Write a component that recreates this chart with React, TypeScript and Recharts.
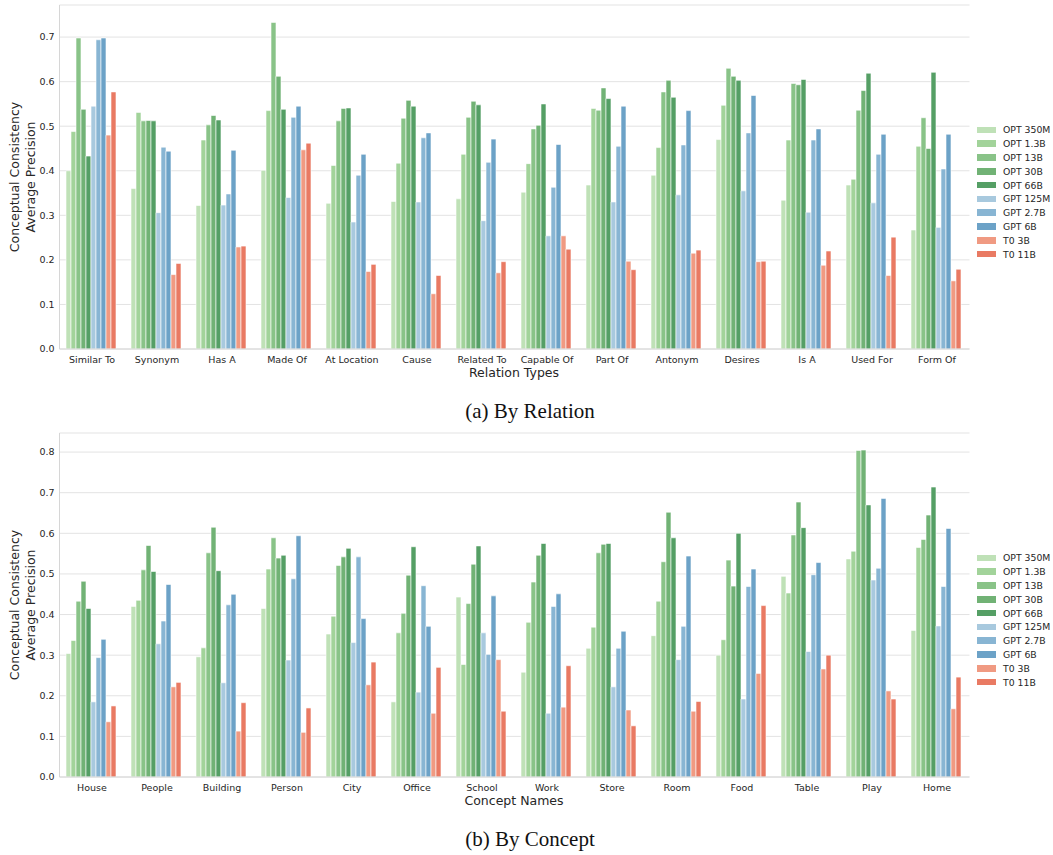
import { BarChart, Bar, XAxis, YAxis, CartesianGrid } from 'recharts'

const RELATIONS = ['Similar To', 'Synonym', 'Has A', 'Made Of', 'At Location', 'Cause', 'Related To', 'Capable Of', 'Part Of', 'Antonym', 'Desires', 'Is A', 'Used For', 'Form Of']
const REL_OPT_350M = [0.400, 0.360, 0.322, 0.401, 0.327, 0.331, 0.337, 0.352, 0.368, 0.390, 0.470, 0.334, 0.368, 0.267]
const REL_OPT_1_3B = [0.488, 0.531, 0.469, 0.535, 0.412, 0.417, 0.437, 0.416, 0.540, 0.452, 0.547, 0.469, 0.381, 0.455]
const REL_OPT_13B = [0.698, 0.512, 0.503, 0.733, 0.512, 0.518, 0.520, 0.494, 0.536, 0.577, 0.630, 0.596, 0.536, 0.519]
const REL_OPT_30B = [0.538, 0.513, 0.524, 0.612, 0.540, 0.558, 0.556, 0.502, 0.586, 0.603, 0.612, 0.593, 0.580, 0.450]
const REL_OPT_66B = [0.433, 0.512, 0.514, 0.538, 0.541, 0.545, 0.548, 0.550, 0.562, 0.565, 0.603, 0.605, 0.619, 0.621]
const REL_GPT_125M = [0.545, 0.306, 0.323, 0.340, 0.285, 0.330, 0.288, 0.254, 0.330, 0.346, 0.355, 0.307, 0.328, 0.273]
const REL_GPT_2_7B = [0.694, 0.453, 0.348, 0.520, 0.390, 0.474, 0.419, 0.363, 0.455, 0.458, 0.485, 0.469, 0.437, 0.404]
const REL_GPT_6B = [0.698, 0.444, 0.446, 0.545, 0.437, 0.485, 0.471, 0.459, 0.545, 0.535, 0.569, 0.494, 0.482, 0.482]
const REL_T0_3B = [0.480, 0.167, 0.229, 0.447, 0.174, 0.124, 0.171, 0.254, 0.197, 0.215, 0.196, 0.188, 0.165, 0.153]
const REL_T0_11B = [0.577, 0.192, 0.231, 0.462, 0.190, 0.165, 0.196, 0.224, 0.178, 0.222, 0.197, 0.220, 0.251, 0.179]

const CONCEPTS = ['House', 'People', 'Building', 'Person', 'City', 'Office', 'School', 'Work', 'Store', 'Room', 'Food', 'Table', 'Play', 'Home']
const CON_OPT_350M = [0.304, 0.420, 0.296, 0.415, 0.352, 0.185, 0.443, 0.258, 0.317, 0.348, 0.300, 0.494, 0.537, 0.361]
const CON_OPT_1_3B = [0.336, 0.435, 0.318, 0.512, 0.396, 0.355, 0.277, 0.381, 0.369, 0.433, 0.338, 0.453, 0.556, 0.565]
const CON_OPT_13B = [0.433, 0.510, 0.552, 0.589, 0.521, 0.403, 0.427, 0.480, 0.552, 0.530, 0.534, 0.596, 0.804, 0.585]
const CON_OPT_30B = [0.482, 0.570, 0.615, 0.539, 0.542, 0.497, 0.524, 0.546, 0.573, 0.652, 0.470, 0.677, 0.805, 0.645]
const CON_OPT_66B = [0.415, 0.506, 0.508, 0.546, 0.563, 0.567, 0.569, 0.575, 0.575, 0.589, 0.600, 0.614, 0.670, 0.714]
const CON_GPT_125M = [0.185, 0.328, 0.232, 0.288, 0.331, 0.209, 0.355, 0.157, 0.222, 0.289, 0.192, 0.309, 0.485, 0.372]
const CON_GPT_2_7B = [0.294, 0.384, 0.424, 0.488, 0.542, 0.471, 0.302, 0.420, 0.317, 0.371, 0.469, 0.498, 0.514, 0.469]
const CON_GPT_6B = [0.339, 0.474, 0.450, 0.594, 0.390, 0.371, 0.446, 0.451, 0.359, 0.544, 0.512, 0.528, 0.686, 0.612]
const CON_T0_3B = [0.136, 0.222, 0.113, 0.110, 0.227, 0.157, 0.289, 0.172, 0.165, 0.162, 0.255, 0.266, 0.212, 0.168]
const CON_T0_11B = [0.175, 0.233, 0.183, 0.170, 0.283, 0.270, 0.162, 0.274, 0.126, 0.186, 0.422, 0.300, 0.192, 0.246]

const REL_TICKS = [0, 0.1, 0.2, 0.3, 0.4, 0.5, 0.6, 0.7]
const CON_TICKS = [0, 0.1, 0.2, 0.3, 0.4, 0.5, 0.6, 0.7, 0.8]

const MODELS = [
  { key: 'opt350m', name: 'OPT 350M', color: '#bfe1b7' },
  { key: 'opt13b_small', name: 'OPT 1.3B', color: '#a2d39a' },
  { key: 'opt13b', name: 'OPT 13B', color: '#89c388' },
  { key: 'opt30b', name: 'OPT 30B', color: '#71b275' },
  { key: 'opt66b', name: 'OPT 66B', color: '#559f65' },
  { key: 'gpt125m', name: 'GPT 125M', color: '#a8c9de' },
  { key: 'gpt27b', name: 'GPT 2.7B', color: '#88b5d3' },
  { key: 'gpt6b', name: 'GPT 6B', color: '#6ca2c7' },
  { key: 't03b', name: 'T0 3B', color: '#f09a82' },
  { key: 't011b', name: 'T0 11B', color: '#e97a63' },
]

const buildRows = (cats: string[], series: number[][]) =>
  cats.map((name, i) => {
    const row: Record<string, string | number> = { name }
    MODELS.forEach((m, j) => { row[m.key] = series[j][i] })
    return row
  })

const relRows = buildRows(RELATIONS, [REL_OPT_350M, REL_OPT_1_3B, REL_OPT_13B, REL_OPT_30B, REL_OPT_66B, REL_GPT_125M, REL_GPT_2_7B, REL_GPT_6B, REL_T0_3B, REL_T0_11B])
const conRows = buildRows(CONCEPTS, [CON_OPT_350M, CON_OPT_1_3B, CON_OPT_13B, CON_OPT_30B, CON_OPT_66B, CON_GPT_125M, CON_GPT_2_7B, CON_GPT_6B, CON_T0_3B, CON_T0_11B])

const FONT = '"DejaVu Sans", sans-serif'
const INK = '#262626'

function Panel({ rows, ticks, yMax, top }: { rows: any[]; ticks: number[]; yMax: number; top: number }) {
  return (
    <div style={{ position: 'absolute', left: 0, top }}>
      <BarChart
        width={1053}
        height={380}
        data={rows}
        margin={{ top: 5, right: 83.5, left: 0, bottom: 0 }}
        barCategoryGap="10%"
        barGap={0}
      >
        <CartesianGrid vertical={false} stroke="#e3e3e3" strokeWidth={1} />
        <XAxis
          dataKey="name"
          height={31}
          tickSize={0}
          tickMargin={7}
          interval={0}
          axisLine={{ stroke: '#d6d6d6' }}
          tick={{ fill: INK, fontSize: 9.5, fontFamily: FONT }}
        />
        <YAxis
          width={59.5}
          domain={[0, yMax]}
          ticks={ticks}
          tickSize={0}
          tickMargin={5}
          tickFormatter={(v: number) => v.toFixed(1)}
          axisLine={{ stroke: '#d6d6d6' }}
          tick={{ fill: INK, fontSize: 9.5, fontFamily: FONT }}
        />
        {MODELS.map((m) => (
          <Bar key={m.key} dataKey={m.key} name={m.name} fill={m.color} stroke="#fff" strokeWidth={0.6} isAnimationActive={false} />
        ))}
      </BarChart>
    </div>
  )
}

function ModelLegend({ top }: { top: number }) {
  return (
    <div style={{ position: 'absolute', left: 977, top, fontFamily: FONT, fontSize: 9.3, color: INK }}>
      {MODELS.map((m) => (
        <div key={m.key} style={{ display: 'flex', alignItems: 'center', height: 13.8 }}>
          <span style={{ display: 'inline-block', width: 19, height: 6.5, background: m.color, marginRight: 7 }} />
          <span style={{ whiteSpace: 'nowrap' }}>{m.name}</span>
        </div>
      ))}
    </div>
  )
}

function Titles({ offset, xLabel, caption }: { offset: number; xLabel: string; caption: string }) {
  const cy = 177 + offset
  return (
    <g>
      <text x={14.5} y={cy} transform={`rotate(-90 14.5 ${cy})`} textAnchor="middle" dominantBaseline="central" fontSize={12.5} fontFamily={FONT} fill={INK}>
        Conceptual Consistency
      </text>
      <text x={30} y={cy} transform={`rotate(-90 30 ${cy})`} textAnchor="middle" dominantBaseline="central" fontSize={12.5} fontFamily={FONT} fill={INK}>
        Average Precision
      </text>
      <text x={514} y={372.7 + offset} textAnchor="middle" dominantBaseline="central" fontSize={12.5} fontFamily={FONT} fill={INK}>
        {xLabel}
      </text>
      <text x={530} y={411 + offset} textAnchor="middle" dominantBaseline="central" fontSize={21} fontFamily='"Liberation Serif", serif' fill="#111">
        {caption}
      </text>
    </g>
  )
}

export default function App() {
  return (
    <div style={{ position: 'absolute', left: 0, top: 0, width: 1053, height: 855, background: '#fff', overflow: 'hidden' }}>
      <Panel rows={relRows} ticks={REL_TICKS} yMax={0.772} top={0} />
      <Panel rows={conRows} ticks={CON_TICKS} yMax={0.847} top={428} />
      <ModelLegend top={123} />
      <ModelLegend top={551} />
      <svg width={1053} height={855} style={{ position: 'absolute', left: 0, top: 0, pointerEvents: 'none' }}>
        <Titles offset={0} xLabel="Relation Types" caption="(a) By Relation" />
        <Titles offset={428} xLabel="Concept Names" caption="(b) By Concept" />
      </svg>
    </div>
  )
}
